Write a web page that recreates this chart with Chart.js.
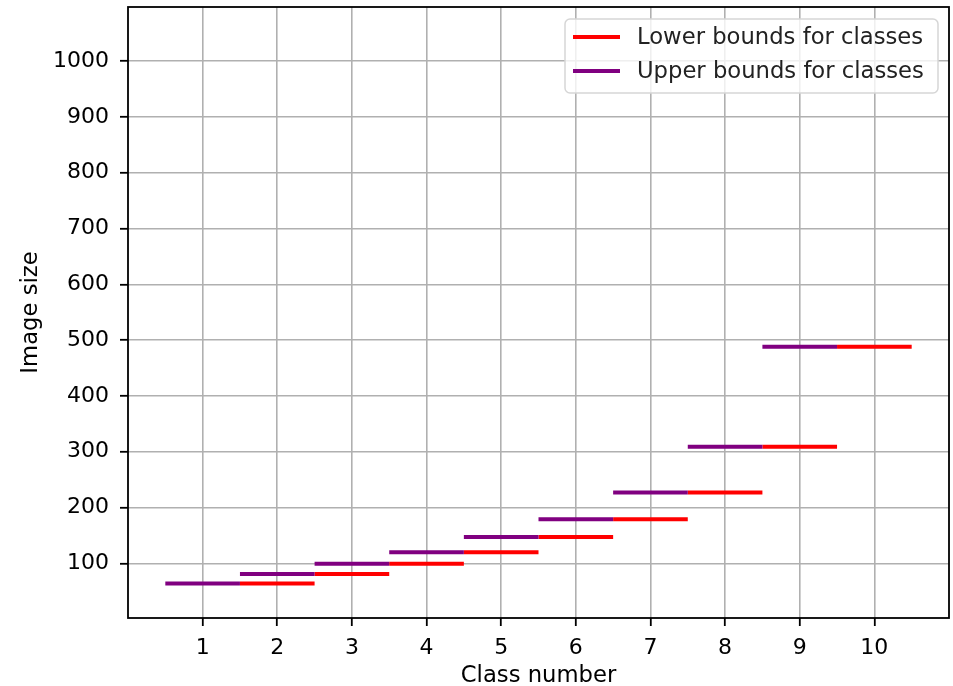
<!DOCTYPE html>
<html>
<head>
<meta charset="utf-8">
<script src="https://cdn.jsdelivr.net/npm/chart.js@4.4.0/dist/chart.umd.min.js"></script>
<style>
  html, body { margin: 0; padding: 0; background: #fff; }
  canvas { display: block; }
</style>
</head>
<body>
<canvas id="boundsChart" width="953" height="686"></canvas>
<script>
// class numbers and the image-size bounds of each class
const classes = [1, 2, 3, 4, 5, 6, 7, 8, 9, 10];
const lowerClasses = [2, 3, 4, 5, 6, 7, 8, 9, 10];
const lowerBounds = [64, 81, 99, 120, 147, 179, 227, 309, 488];
const upperClasses = [1, 2, 3, 4, 5, 6, 7, 8, 9];
const upperBounds = [64, 81, 99, 120, 147, 179, 227, 309, 488];
const xTicks = classes;
const yTicks = [100, 200, 300, 400, 500, 600, 700, 800, 900, 1000];

const FONT = 'DejaVu Sans';
const FONT_SIZE = 22;
const LABEL_SIZE = 22.7;

// each class gets a horizontal step from c-0.5 to c+0.5, broken by nulls
function steps(cls, vals) {
    const pts = [];
    cls.forEach((c, i) => {
        pts.push({ x: c - 0.5, y: vals[i] });
        pts.push({ x: c + 0.5, y: vals[i] });
        pts.push({ x: c + 0.5, y: null });
    });
    return pts;
}

// axes frame drawn around the plot area
const framePlugin = {
    id: 'frame',
    afterDatasetsDraw(chart) {
        const { ctx, chartArea: a } = chart;
        ctx.save();
        ctx.strokeStyle = '#000';
        ctx.lineWidth = 1.8;
        ctx.strokeRect(a.left, a.top, a.right - a.left, a.bottom - a.top);
        ctx.restore();
    }
};

// boxed legend in the upper right corner
const legendPlugin = {
    id: 'boxLegend',
    afterDraw(chart) {
        const { ctx, chartArea: a } = chart;
        const items = chart.data.datasets.map(d => ({ label: d.label, color: d.borderColor }));
        const x0 = a.right - 384, y0 = a.top + 12, w = 373, h = 74, r = 5;
        ctx.save();
        ctx.beginPath();
        ctx.roundRect(x0, y0, w, h, r);
        ctx.fillStyle = 'rgba(255,255,255,0.8)';
        ctx.fill();
        ctx.strokeStyle = '#d6d6d6';
        ctx.lineWidth = 1.5;
        ctx.stroke();
        ctx.font = LABEL_SIZE + 'px "' + FONT + '"';
        ctx.textBaseline = 'middle';
        items.forEach((it, i) => {
            const y = y0 + 18 + i * 34;
            ctx.beginPath();
            ctx.moveTo(x0 + 8, y);
            ctx.lineTo(x0 + 55, y);
            ctx.strokeStyle = it.color;
            ctx.lineWidth = 4;
            ctx.stroke();
            ctx.fillStyle = '#222';
            ctx.fillText(it.label, x0 + 72, y + 1);
        });
        ctx.restore();
    }
};

Chart.defaults.font.family = FONT;
Chart.defaults.font.size = FONT_SIZE;
Chart.defaults.color = '#222';

new Chart(document.getElementById('boundsChart').getContext('2d'), {
    type: 'line',
    data: {
        datasets: [{
            label: 'Lower bounds for classes',
            data: steps(lowerClasses, lowerBounds),
            borderColor: '#ff0000',
            borderWidth: 4,
            pointRadius: 0,
            spanGaps: false,
            order: 2
        }, {
            label: 'Upper bounds for classes',
            data: steps(upperClasses, upperBounds),
            borderColor: '#800080',
            borderWidth: 4,
            pointRadius: 0,
            spanGaps: false,
            order: 1
        }]
    },
    options: {
        responsive: false,
        animation: false,
        layout: { padding: { top: 7, right: 4, left: 0, bottom: 0 } },
        plugins: {
            legend: { display: false },
            tooltip: { enabled: false }
        },
        scales: {
            x: {
                type: 'linear',
                min: 0,
                max: 11,
                afterBuildTicks: s => { s.ticks = xTicks.map(v => ({ value: v })); },
                afterFit: s => { s.height = 68; s.paddingLeft = 0; s.paddingRight = 0; },
                grid: { color: '#b0b0b0', lineWidth: 1.6, tickColor: '#000', tickLength: 8, tickWidth: 1.8 },
                border: { display: false },
                ticks: { padding: 9, maxRotation: 0, color: '#000', callback: v => String(v) },
                title: { display: true, text: 'Class number', font: { size: LABEL_SIZE }, padding: { top: 0, bottom: -4 }, color: '#000' }
            },
            y: {
                type: 'linear',
                min: 2,
                max: 1097,
                afterBuildTicks: s => { s.ticks = yTicks.map(v => ({ value: v })); },
                afterFit: s => { s.width = 128; s.paddingTop = 0; s.paddingBottom = 0; },
                grid: { color: '#b0b0b0', lineWidth: 1.6, tickColor: '#000', tickLength: 8, tickWidth: 1.8 },
                border: { display: false },
                ticks: { padding: 11, color: '#000', callback: v => String(v) },
                title: { display: true, text: 'Image size', font: { size: LABEL_SIZE }, padding: { top: 17, bottom: 0 }, color: '#000' }
            }
        }
    },
    plugins: [framePlugin, legendPlugin]
});
</script>
</body>
</html>
